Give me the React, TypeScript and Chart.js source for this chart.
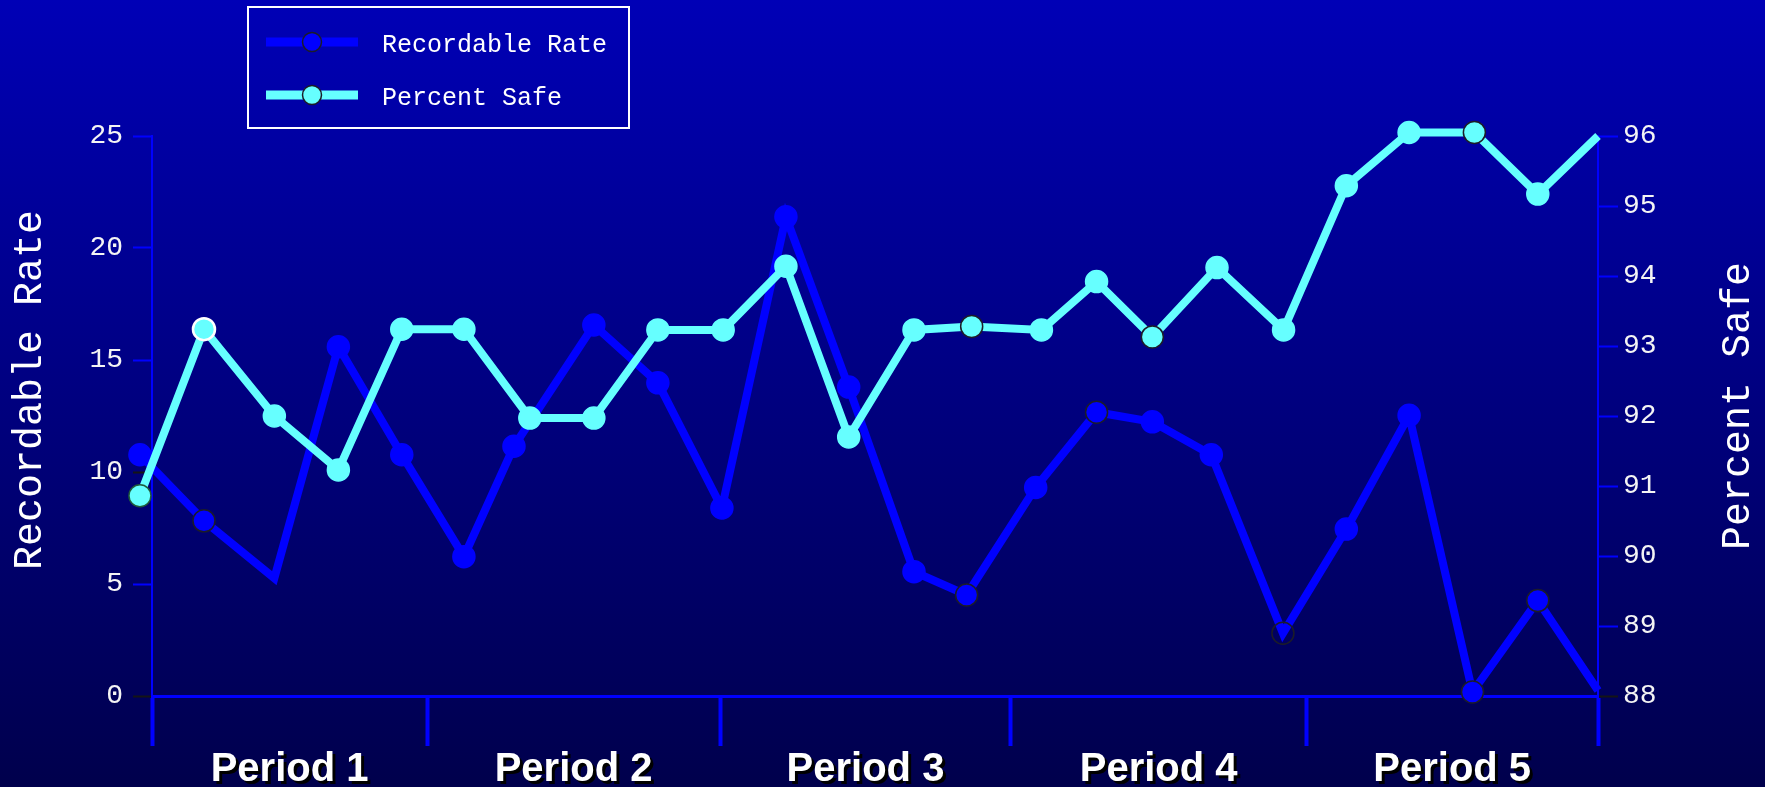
import { useEffect, useRef } from 'react';
import { Chart, registerables, LinearScale } from 'chart.js';

Chart.register(...registerables);

// Period labels on the bottom axis and their boundaries on the sample scale
const PERIOD_LABELS = ['Period 1', 'Period 2', 'Period 3', 'Period 4', 'Period 5'];
const PERIOD_BOUNDS = [0.19, 4.53, 9.15, 13.74, 18.4, 23];

// Sample positions along the x axis for each series
const RATE_POS = [
  0, 1.01, 2.12, 3.13, 4.13, 5.11, 5.9, 7.16, 8.17, 9.18, 10.19, 11.18,
  12.21, 13.04, 14.13, 15.09, 15.97, 16.9, 18.03, 19.03, 20.02, 21.02, 22.05, 23,
];
const SAFE_POS = [
  0, 1.01, 2.12, 3.13, 4.13, 5.11, 6.15, 7.16, 8.17, 9.2, 10.19, 11.18,
  12.21, 13.12, 14.22, 15.09, 15.97, 16.99, 18.04, 19.03, 20.02, 21.05, 22.05, 23,
];

const RECORDABLE_RATE = [
  10.77, 7.82, 5.26, 15.59, 10.77, 6.22, 11.15, 16.56, 13.98, 8.39, 21.39, 13.79,
  5.55, 4.51, 9.31, 12.67, 12.24, 10.77, 2.8, 7.45, 12.53, 0.18, 4.26, 0.25,
];
const PERCENT_SAFE = [
  90.86, 93.24, 92.0, 91.23, 93.24, 93.24, 91.97, 91.97, 93.23, 93.23, 94.14, 91.7,
  93.23, 93.28, 93.23, 93.92, 93.13, 94.12, 93.23, 95.29, 96.05, 96.05, 95.17, 96.0,
];

// Axis ticks
const RATE_TICKS = [0, 5, 10, 15, 20, 25];
const SAFE_TICKS = [88, 89, 90, 91, 92, 93, 94, 95, 96];

const RATE_LABEL = 'Recordable Rate';
const SAFE_LABEL = 'Percent Safe';

const RATE_COLOR = '#0000FF';
const SAFE_COLOR = '#66FFFF';
const AXIS_COLOR = '#0000FF';
const TEXT_COLOR = '#f4f4f4';
const OUTLINE = '#1c1c28';
const MONO = '"Liberation Mono", "DejaVu Sans Mono", monospace';

// Bottom axis whose tick labels carry a dark drop shadow
class ShadowLinearScale extends LinearScale {
  static id = 'shadowLinear';
  static defaults = LinearScale.defaults;
  drawLabels(chartArea: any) {
    const ctx = this.ctx;
    ctx.save();
    ctx.shadowColor = '#000000';
    ctx.shadowOffsetX = 3;
    ctx.shadowOffsetY = 3;
    ctx.shadowBlur = 0;
    super.drawLabels(chartArea);
    ctx.restore();
  }
}
Chart.register(ShadowLinearScale);

const periodCenters = PERIOD_LABELS.map((_, i) => (PERIOD_BOUNDS[i] + PERIOD_BOUNDS[i + 1]) / 2);

// Axis titles (both read bottom-to-top) and the boxed legend
const decorations = {
  id: 'decorations',
  afterDraw(chart: any) {
    const ctx = chart.ctx as CanvasRenderingContext2D;
    const area = chart.chartArea;
    const midY = (area.top + area.bottom) / 2;
    ctx.save();
    ctx.fillStyle = '#ffffff';
    ctx.font = `40px ${MONO}`;
    ctx.textAlign = 'center';
    ctx.textBaseline = 'middle';

    ctx.save();
    ctx.translate(chart.scales.y.left + 30, midY - 26);
    ctx.rotate(-Math.PI / 2);
    ctx.fillText(RATE_LABEL, 0, 0);
    ctx.restore();

    ctx.save();
    ctx.translate(chart.scales.y1.right - 27, midY - 10);
    ctx.rotate(-Math.PI / 2);
    ctx.fillText(SAFE_LABEL, 0, 0);
    ctx.restore();

    // legend
    const bx = 248;
    const by = 7;
    ctx.strokeStyle = '#ffffff';
    ctx.lineWidth = 2;
    ctx.strokeRect(bx, by, 381, 121);
    const entries = [
      { label: RATE_LABEL, color: RATE_COLOR },
      { label: SAFE_LABEL, color: SAFE_COLOR },
    ];
    entries.forEach((e, i) => {
      const y = by + 35 + i * 53;
      ctx.strokeStyle = e.color;
      ctx.lineWidth = 9;
      ctx.lineCap = 'butt';
      ctx.beginPath();
      ctx.moveTo(bx + 18, y);
      ctx.lineTo(bx + 110, y);
      ctx.stroke();
      ctx.beginPath();
      ctx.arc(bx + 64, y, 9.5, 0, Math.PI * 2);
      ctx.fillStyle = e.color;
      ctx.fill();
      ctx.strokeStyle = OUTLINE;
      ctx.lineWidth = 1.5;
      ctx.stroke();
      ctx.fillStyle = '#ffffff';
      ctx.font = `25px ${MONO}`;
      ctx.textAlign = 'left';
      ctx.textBaseline = 'middle';
      ctx.fillText(e.label, bx + 134, y + 3);
    });
    ctx.restore();
  },
};

const ratePointRadius = RECORDABLE_RATE.map((_, i) => (i === 2 || i === 23 ? 0 : 11));
const ratePointBg = RECORDABLE_RATE.map((_, i) => (i === 18 ? 'rgba(0,0,0,0)' : RATE_COLOR));
const ratePointBorder = RECORDABLE_RATE.map((_, i) =>
  [1, 13, 15, 18, 21, 22].includes(i) ? OUTLINE : RATE_COLOR
);
const safePointRadius = PERCENT_SAFE.map((_, i) => (i === 23 ? 0 : 11));
const safePointBorder = PERCENT_SAFE.map((_, i) => {
  if (i === 1) return '#ffffff';
  if (i === 0) return '#1f5a3a';
  if ([13, 16, 21].includes(i)) return OUTLINE;
  return SAFE_COLOR;
});
const safePointBorderWidth = PERCENT_SAFE.map((_, i) => (i === 1 ? 2.5 : 1.5));

export default function App() {
  const canvasRef = useRef<HTMLCanvasElement | null>(null);

  useEffect(() => {
    document.body.style.margin = '0';
    const canvas = canvasRef.current;
    if (!canvas) return;
    const chart = new Chart(canvas, {
      type: 'line',
      data: {
        datasets: [
          {
            label: RATE_LABEL,
            data: RECORDABLE_RATE.map((v, i) => ({ x: RATE_POS[i], y: v })),
            xAxisID: 'x',
            yAxisID: 'y',
            borderColor: RATE_COLOR,
            backgroundColor: RATE_COLOR,
            borderWidth: 8,
            borderJoinStyle: 'miter',
            borderCapStyle: 'butt',
            tension: 0,
            pointRadius: ratePointRadius,
            pointBackgroundColor: ratePointBg,
            pointBorderColor: ratePointBorder,
            pointBorderWidth: 1.5,
            clip: false,
            order: 1,
          },
          {
            label: SAFE_LABEL,
            data: PERCENT_SAFE.map((v, i) => ({ x: SAFE_POS[i], y: v })),
            xAxisID: 'x',
            yAxisID: 'y1',
            borderColor: SAFE_COLOR,
            backgroundColor: SAFE_COLOR,
            borderWidth: 8,
            borderJoinStyle: 'miter',
            borderCapStyle: 'butt',
            tension: 0,
            pointRadius: safePointRadius,
            pointBackgroundColor: SAFE_COLOR,
            pointBorderColor: safePointBorder,
            pointBorderWidth: safePointBorderWidth,
            clip: false,
            order: 0,
          },
        ],
      },
      options: {
        responsive: false,
        animation: false,
        devicePixelRatio: 1,
        layout: { padding: { top: 136, left: 0, right: 0, bottom: 0 } },
        plugins: { legend: { display: false }, tooltip: { enabled: false } },
        scales: {
          x: {
            type: 'linear',
            position: 'bottom',
            weight: 0,
            min: PERIOD_BOUNDS[0],
            max: PERIOD_BOUNDS[PERIOD_BOUNDS.length - 1],
            afterBuildTicks: (s: any) => {
              s.ticks = PERIOD_BOUNDS.map((v) => ({ value: v }));
            },
            afterFit: (s: any) => {
              s.height = 50;
            },
            ticks: { display: false },
            grid: {
              drawOnChartArea: false,
              drawTicks: true,
              tickLength: 50,
              tickWidth: 4,
              tickColor: AXIS_COLOR,
              color: AXIS_COLOR,
            },
            border: { display: true, color: AXIS_COLOR, width: 3 },
          },
          xLabels: {
            type: 'shadowLinear',
            position: 'bottom',
            weight: 1,
            min: PERIOD_BOUNDS[0],
            max: PERIOD_BOUNDS[PERIOD_BOUNDS.length - 1],
            afterBuildTicks: (s: any) => {
              s.ticks = periodCenters.map((v) => ({ value: v }));
            },
            afterFit: (s: any) => {
              s.height = 41;
            },
            ticks: {
              autoSkip: false,
              maxRotation: 0,
              padding: 0,
              color: '#ffffff',
              font: { family: '"Liberation Sans", Arial, sans-serif', size: 40, weight: 'bold' },
              callback: (_v: any, i: number) => PERIOD_LABELS[i],
            },
            grid: { display: false, drawTicks: false },
            border: { display: false },
          } as any,
          y: {
            type: 'linear',
            position: 'left',
            min: RATE_TICKS[0],
            max: RATE_TICKS[RATE_TICKS.length - 1],
            afterBuildTicks: (s: any) => {
              s.ticks = RATE_TICKS.map((v) => ({ value: v }));
            },
            afterFit: (s: any) => {
              s.width = 152;
            },
            ticks: {
              padding: 10,
              color: TEXT_COLOR,
              font: { family: MONO, size: 28 },
            },
            grid: {
              drawOnChartArea: false,
              tickLength: 19,
              tickWidth: 2,
              tickColor: (c: any) => (c.tick && (c.tick.value === 0 || c.tick.value === 10) ? '#151515' : AXIS_COLOR),
            },
            border: { display: true, color: AXIS_COLOR, width: 2 },
          },
          y1: {
            type: 'linear',
            position: 'right',
            min: SAFE_TICKS[0],
            max: SAFE_TICKS[SAFE_TICKS.length - 1],
            afterBuildTicks: (s: any) => {
              s.ticks = SAFE_TICKS.map((v) => ({ value: v }));
            },
            afterFit: (s: any) => {
              s.width = 167;
            },
            ticks: {
              padding: 5,
              color: TEXT_COLOR,
              font: { family: MONO, size: 28 },
            },
            grid: {
              drawOnChartArea: false,
              tickLength: 20,
              tickWidth: 2,
              tickColor: (c: any) => (c.tick && c.tick.value === 88 ? '#151515' : AXIS_COLOR),
            },
            border: { display: true, color: AXIS_COLOR, width: 2 },
          },
        },
      } as any,
      plugins: [decorations],
    });
    return () => chart.destroy();
  }, []);

  return (
    <div
      style={{
        position: 'fixed',
        left: 0,
        top: 0,
        width: 1765,
        height: 787,
        background: 'linear-gradient(to bottom, #0000B6 0%, #000080 50%, #00004C 100%)',
      }}
    >
      <canvas ref={canvasRef} width={1765} height={787} style={{ display: 'block' }} />
    </div>
  );
}
